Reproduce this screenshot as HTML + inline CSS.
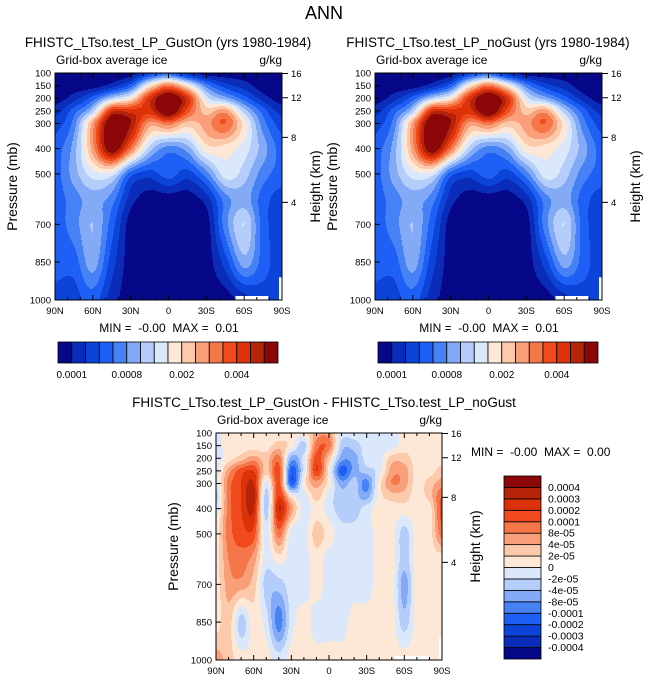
<!DOCTYPE html>
<html><head><meta charset="utf-8">
<style>
body{margin:0;background:#fff;width:648px;height:685px;position:relative;overflow:hidden;font-family:"Liberation Sans",sans-serif}
canvas{position:absolute;image-rendering:pixelated}
svg{position:absolute;left:0;top:0}
text{white-space:pre}
</style></head><body>
<canvas id="c1" width="227" height="227" style="left:55px;top:73px;width:227px;height:227px"></canvas>
<canvas id="c2" width="227" height="227" style="left:375px;top:73px;width:227px;height:227px"></canvas>
<canvas id="c3" width="226" height="227" style="left:216px;top:433px;width:226px;height:227px"></canvas>
<svg id="ov" width="648" height="685"></svg>
<script>
// ---- data ----
const palette=['#07078a','#0a2cb8','#0d44d8','#1e60f5','#4682f5','#82aaf7','#b4cdfa','#dbe8fc','#fde8d8','#fdc9ab','#f9a07a','#f57648','#f04a1e','#dc320a','#b4230a','#8c0808'];
const seqLevelLabels=['0.0001','','','','0.0008','','','','0.002','','','','0.004','',''];
const diffLevelLabels=['0.0004','0.0003','0.0002','0.0001','8e-05','4e-05','2e-05','0','-2e-05','-4e-05','-8e-05','-0.0001','-0.0002','-0.0003','-0.0004'];
const pressureTicks=[100,150,200,250,300,400,500,700,850,1000];
const heightTicks=[16,12,8,4];
const heightTickPressure=[102,198,355,613];
const latTicks=[90,60,30,0,-30,-60,-90];
const latTickLabels=['90N','60N','30N','0','30S','60S','90S'];
// ice field in contour-class units (0..15), lats 90N..90S every 15
const iceLats=[90,75,60,45,30,15,0,-15,-30,-45,-60,-75,-90];
const icePs=[100,150,200,250,300,400,500,600,700,850,1000];
const iceGrid=[
[0,0,0,0,0,2,3,1,0,0,0,0,0],
[0,0,0,1,3,8,11,8,4,2,1,0,0],
[0,1,3,6,8,13,16,13,7,5,3,1,0],
[1,3,6,13,13,13,16,12,9,10,6,3,1],
[2,4,10,16,14.5,10,11,9,10,11.5,8,4,2],
[3,5,10,15.5,11,6,4,5,8,8,7,5,3],
[3,5,7,7,3,2,3,2,4,7,6,4,3],
[3,4,5,4,1,0,0,0,1,4,5,3,2],
[3,4,5.5,3,0,0,0,0,0,4,6.5,3,2],
[3,3,5,2,0,0,0,0,0,2,5,3,2],
[2,2,3,1,0,0,0,0,0,0,1,2,2]];
// difference field in class units (7=just below 0, 8=just above 0), lats every 10
const diffLats=[90,80,70,60,50,40,30,20,10,0,-10,-20,-30,-40,-50,-60,-70,-80,-90];
const diffPs=[100,150,200,250,300,350,400,500,600,700,850,1000];
const diffGrid=[
[7,8,8,8,8,8,8,8,10,10,7,7,7,7,7,8,8,8,8],
[7,8,8,8,8,9,8,6,11,11,6,6,7,7,7,8,8,8,8],
[7,8,9,10,9,11,5,7,12,9,5,5,7,7,9,9,8,8,8],
[7,10,12,12.5,9,12,3,7,12.5,8,3,5,6,7,10,10,8,8,9],
[7,11,12.5,13.5,7,12,3,8,10,8,5,6,4,8,10.5,10,8,9,10],
[6,11,12.5,14,6,12.5,8,7,9,7,6,6,5,8,9,9,8,9,11.5],
[7,11,12.5,13.5,6,13.5,10,7,8,7,6,6,7,8,8,8,8,8,12],
[8,11,12,12,7,11,7,7,9,8,7,7,7,8,8,6,8,8,11],
[8,10.5,11,10,7,8,7,7,8,7,7,7,7,8,8,6,8,8,8],
[8,10,10,9,6,6,7,7,8,7,7,7,7,8,8,5,8,8,8],
[8,9,6,8,7,4,7,8,7,7,7,8,8,8,8,6,8,8,8],
[10,9,8,8,8,7,8,8,8,8,8,8,8,8,8,8,8,8,8]];

function hex(c){return [parseInt(c.slice(1,3),16),parseInt(c.slice(3,5),16),parseInt(c.slice(5,7),16)];}
const rgb=palette.map(hex);
function idx(arr,v,desc){for(let k=0;k<arr.length-1;k++){const a=arr[k],b=arr[k+1];if(desc?(v<=a&&v>=b):(v>=a&&v<=b))return [k,(v-a)/(b-a)];}return [arr.length-2,1];}
function cr(p0,p1,p2,p3,t){return 0.5*((2*p1)+(-p0+p2)*t+(2*p0-5*p1+4*p2-p3)*t*t+(-p0+3*p1-3*p2+p3)*t*t*t);}
function drawField(id,lats,ps,grid){
  const cv=document.getElementById(id),W=cv.width,H=cv.height,ctx=cv.getContext('2d');
  const img=ctx.createImageData(W,H);const nr=grid.length,nc=grid[0].length;
  const g=(r,c)=>grid[Math.max(0,Math.min(nr-1,r))][Math.max(0,Math.min(nc-1,c))];
  for(let j=0;j<H;j++){const p=100+(j+0.5)/H*900;const [pi,pt]=idx(ps,p,false);
    for(let i=0;i<W;i++){const lat=90-(i+0.5)/W*180;const [li,lt]=idx(lats,lat,true);
      const rows=[];for(let r=-1;r<=2;r++){rows.push(cr(g(pi+r,li-1),g(pi+r,li),g(pi+r,li+1),g(pi+r,li+2),lt));}
      const v=cr(rows[0],rows[1],rows[2],rows[3],pt);
      let c=Math.max(0,Math.min(15,Math.floor(v+0.5)));const o=(j*W+i)*4;
      img.data[o]=rgb[c][0];img.data[o+1]=rgb[c][1];img.data[o+2]=rgb[c][2];img.data[o+3]=255;}}
  ctx.putImageData(img,0,0);
}
drawField('c1',iceLats,icePs,iceGrid);
drawField('c2',iceLats,icePs,iceGrid);
drawField('c3',diffLats,diffPs,diffGrid);

const svg=document.getElementById('ov');const NS='http://www.w3.org/2000/svg';
function el(t,a,txt){const e=document.createElementNS(NS,t);for(const k in a)e.setAttribute(k,a[k]);if(txt!==undefined)e.textContent=txt;svg.appendChild(e);return e;}
function text(x,y,s,size,anchor,name,extra){const e=el('text',Object.assign({x:x,y:y,'font-size':size,'text-anchor':anchor||'start','font-family':'Liberation Sans, sans-serif',fill:'#000'},extra||{}),s);


return e;}
text(324,19,'ANN',18,'middle','main-title');

function panel(x0,y0,W,H,title,tx,ty,pfx){
  const xs=lat=>x0+(90-lat)/180*W, ys=p=>y0+(p-100)/900*H;
  const m1=el('rect',{x:x0+0.795*W,y:y0+H-4,width:0.145*W,height:4,fill:'#fff'});
  
  
  const m2=el('rect',{x:x0+W-3,y:y0+0.9*H,width:3,height:0.1*H,fill:'#fff'});
  
  
  const fr=el('rect',{x:x0,y:y0,width:W,height:H,fill:'none',stroke:'#000','stroke-width':1});
  
  
  text(tx,ty,title,13.5,'middle',pfx+'-title');
  text(x0+1,y0-9,'Grid-box average ice',12,'start',pfx+'-subtitle');
  text(x0+W,y0-9,'g/kg',12,'end',pfx+'-units');
  let d='';
  for(let lat=90;lat>=-90;lat-=10){const x=xs(lat),L=(lat%30===0)?5:3;d+=`M${x} ${y0+H}v${-L}M${x} ${y0}v${L}`;}
  pressureTicks.forEach(p=>{const y=ys(p);d+=`M${x0} ${y}h5`;});
  heightTickPressure.forEach(p=>{const y=ys(p);d+=`M${x0+W} ${y}h6`;});
  const tk=el('path',{d:d,stroke:'#000','stroke-width':1,fill:'none'});
  
  
  pressureTicks.forEach(p=>{text(x0-4,ys(p)+3.5,String(p),9.5,'end',pfx+'-y-tick-label');});
  heightTicks.forEach((h,k)=>{text(x0+W+9,ys(heightTickPressure[k])+3.5,String(h),9.5,'start',pfx+'-height-tick-label');});
  latTicks.forEach((lat,k)=>{text(xs(lat),y0+H+14,latTickLabels[k],9.5,'middle',pfx+'-x-tick-label');});
  text(0,0,'Pressure (mb)',14,'middle',pfx+'-y-axis-title',{transform:`translate(${x0-38},${y0+H/2}) rotate(-90)`});
  text(0,0,'Height (km)',14,'middle',pfx+'-height-axis-title',{transform:`translate(${x0+W+38},${y0+H/2}) rotate(-90)`});
}
panel(55,73,227,227,'FHISTC_LTso.test_LP_GustOn (yrs 1980-1984)',168,47,'left');
panel(375,73,227,227,'FHISTC_LTso.test_LP_noGust (yrs 1980-1984)',488,47,'right');
panel(216,433,226,227,'FHISTC_LTso.test_LP_GustOn - FHISTC_LTso.test_LP_noGust',324,407,'diff');
text(169,332,'MIN =  -0.00  MAX =  0.01',12,'middle','left-min-max');
text(489,332,'MIN =  -0.00  MAX =  0.01',12,'middle','right-min-max');
text(471,456,'MIN =  -0.00  MAX =  0.00',12,'start','diff-min-max');

function hbar(x0,y0,W,H,pfx){
  const bw=W/palette.length;
  palette.forEach((c,k)=>{const r=el('rect',{x:x0+k*bw,y:y0,width:bw,height:H,fill:c,stroke:'#000','stroke-width':0.8});
    
    });
  seqLevelLabels.forEach((s,k)=>{if(s)text(x0+(k+1)*bw,y0+H+15,s,10,'middle',pfx+'-colorbar-label');});
}
hbar(58,342,220,21,'left');
hbar(378,342,220,21,'right');
(function(){const x0=504,y0=476,W=37,H=183,bh=H/palette.length;
  palette.forEach((c,k)=>{const r=el('rect',{x:x0,y:y0+H-(k+1)*bh,width:W,height:bh,fill:c,stroke:'#000','stroke-width':0.8});
    
    });
  diffLevelLabels.forEach((s,k)=>{text(x0+W+7,y0+(k+1)*bh+3.5,s,10.5,'start','diff-colorbar-label');});
})();
</script>
</body></html>
